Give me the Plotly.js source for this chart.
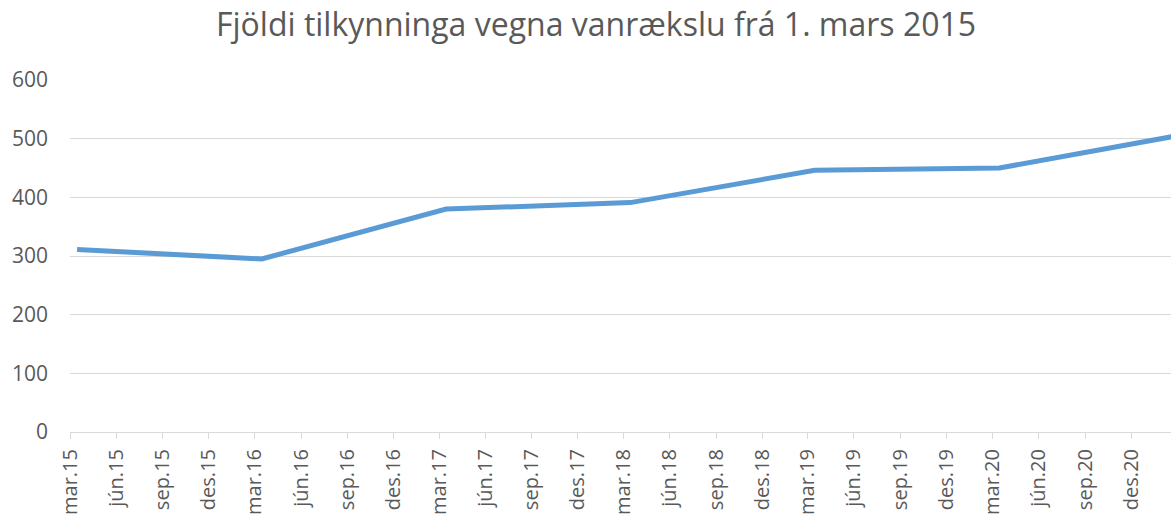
<!DOCTYPE html>
<html>
<head>
<meta charset="utf-8">
<script src="https://cdn.plot.ly/plotly-3.0.1.min.js"></script>
<style>html,body{margin:0;padding:0;background:#fff;}#chart{width:1171px;height:517px;}</style>
</head>
<body>
<div id="chart"></div>
<script>
// Data points (yearly, one per March)
const pointDates = ['2015-03-15','2016-03-15','2017-03-15','2018-03-15','2019-03-15','2020-03-15','2021-03-15'];
const pointValues = [311, 295, 380, 391, 446, 450, 507];

// Tick positions and labels (quarterly)
const tickDates = ['2015-03-01','2015-06-01','2015-09-01','2015-12-01',
  '2016-03-01','2016-06-01','2016-09-01','2016-12-01',
  '2017-03-01','2017-06-01','2017-09-01','2017-12-01',
  '2018-03-01','2018-06-01','2018-09-01','2018-12-01',
  '2019-03-01','2019-06-01','2019-09-01','2019-12-01',
  '2020-03-01','2020-06-01','2020-09-01','2020-12-01'];
const tickLabels = ['mar.15','jún.15','sep.15','des.15',
  'mar.16','jún.16','sep.16','des.16',
  'mar.17','jún.17','sep.17','des.17',
  'mar.18','jún.18','sep.18','des.18',
  'mar.19','jún.19','sep.19','des.19',
  'mar.20','jún.20','sep.20','des.20'];
const yTicks = [0, 100, 200, 300, 400, 500, 600];

const titleText = 'Fjöldi tilkynninga vegna vanrækslu frá 1. mars 2015';

const font = 'Open Sans, sans-serif';
const textColor = '#595959';

Plotly.newPlot('chart', [{
  x: pointDates,
  y: pointValues,
  type: 'scatter',
  mode: 'lines',
  line: {color: '#5b9bd5', width: 5},
  hoverinfo: 'skip'
}], {
  width: 1171, height: 517,
  margin: {l: 70, r: 0, t: 80, b: 85},
  paper_bgcolor: '#fff', plot_bgcolor: '#fff',
  showlegend: false,
  title: {text: titleText, font: {family: font, size: 32, color: textColor}, x: 0.509, xanchor: 'center', y: 0.952, yanchor: 'middle'},
  xaxis: {
    type: 'date',
    range: ['2015-03-01', '2021-02-18'],
    tickmode: 'array', tickvals: tickDates, ticktext: tickLabels,
    tickangle: -90,
    ticks: 'outside', ticklen: 6, tickcolor: '#d9d9d9', tickwidth: 1,
    showline: true, linecolor: '#d9d9d9', linewidth: 1,
    showgrid: false, zeroline: false,
    ticklabelstandoff: 2,
    tickfont: {family: font, size: 20, color: textColor}
  },
  yaxis: {
    range: [0, 600],
    tickmode: 'array', tickvals: yTicks,
    showgrid: true, gridcolor: '#d9d9d9', gridwidth: 1,
    zeroline: false, showline: false,
    ticklabelstandoff: 21,
    tickfont: {family: font, size: 21, color: textColor}
  }
}, {staticPlot: true});
</script>
</body>
</html>
